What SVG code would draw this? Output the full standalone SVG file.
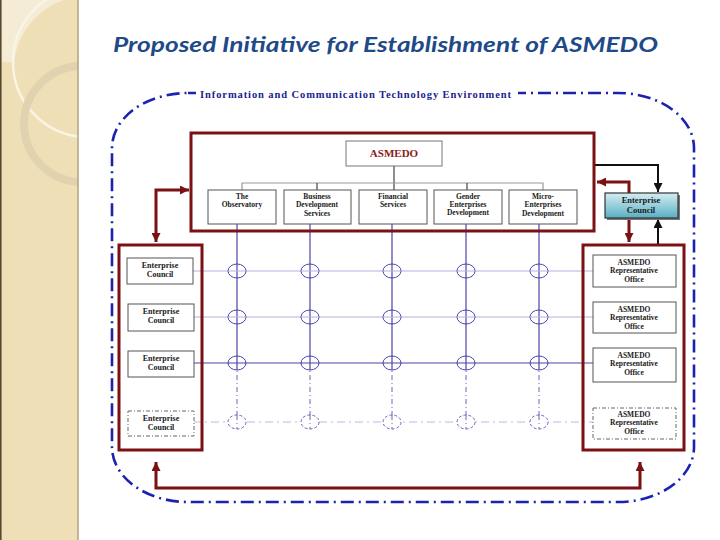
<svg xmlns="http://www.w3.org/2000/svg" width="720" height="540" viewBox="0 0 720 540">
<style>
.red{fill:none;stroke:#7b1113;stroke-width:3}
.redarr{fill:none;stroke:#7b1113;stroke-width:3;marker-start:url(#ra);marker-end:url(#ra)}
.blk{fill:none;stroke:#111;stroke-width:2;marker-end:url(#ba)}
.box{fill:#fff;stroke:#555;stroke-width:1}
.dbox{fill:#fff;stroke:#666;stroke-width:1;stroke-dasharray:4 2 1 2}
.t{font-family:"Liberation Serif","Times New Roman",serif;font-weight:bold;fill:#1a1a1a;text-anchor:middle}
.vl{stroke:#4a45a8;stroke-width:1.2;fill:none}
.vd{stroke:#6a66b8;stroke-width:1;fill:none;stroke-dasharray:5 3 1 3}
.hl{stroke:#b4b2e4;stroke-width:1.2;fill:none}
.hd{stroke:#b9b8e6;stroke-width:1;fill:none;stroke-dasharray:8 4 2 4}
.ring{fill:#fff;stroke:#4a45a8;stroke-width:1}
.ringd{fill:#fff;stroke:#6a66b8;stroke-width:1;stroke-dasharray:3 2}
.conn{stroke:#999;stroke-width:1.2;fill:none}
.connd{stroke:#444;stroke-width:1.2;fill:none}
</style>
<defs>
<marker id="ra" viewBox="0 0 10 10" refX="10" refY="5" markerWidth="9" markerHeight="9" markerUnits="userSpaceOnUse" orient="auto-start-reverse"><path d="M0,0 L10,5 L0,10 z" fill="#7b1113"/></marker>
<marker id="ba" viewBox="0 0 10 10" refX="10" refY="5" markerWidth="9" markerHeight="9" markerUnits="userSpaceOnUse" orient="auto"><path d="M0,0 L10,5 L0,10 z" fill="#111"/></marker>
<linearGradient id="teal" x1="0" y1="0" x2="0" y2="1"><stop offset="0" stop-color="#d3eef3"/><stop offset="1" stop-color="#5aaec2"/></linearGradient>
<clipPath id="side"><rect x="0" y="0" width="78" height="540"/></clipPath>
</defs>

<g id="sidebar">
<rect x="0" y="0" width="78" height="540" fill="#efdfb7"/>
<g clip-path="url(#side)">
<path d="M0,0 H64 A75,75 0 0 0 14,62 H0 z" fill="#f5ecd6"/>
<circle cx="88" cy="62" r="75" fill="none" stroke="#faf4e4" stroke-width="2.5"/>
<circle cx="82" cy="124" r="58" fill="none" stroke="#e2d3b0" stroke-width="8"/>
</g>
<line x1="0.8" y1="0" x2="0.8" y2="540" stroke="#5a4a2e" stroke-width="1.6"/>
<line x1="78" y1="0" x2="78" y2="540" stroke="#b5a27a" stroke-width="1.5"/>
</g>

<text id="title" x="113" y="52" textLength="545" lengthAdjust="spacingAndGlyphs" font-family="Lato,'Open Sans',sans-serif" font-style="italic" font-weight="bold" font-size="21" fill="#1f4a88">Proposed Initiative for Establishment of ASMEDO</text>

<g id="ict-frame">
<rect x="112" y="93" width="582" height="409" rx="76" ry="55" fill="none" stroke="#1c22b0" stroke-width="2.6" stroke-dasharray="13 5 2 5"/>
<rect x="196" y="86" width="322" height="15" fill="#fff"/>
<text x="200" y="97.5" textLength="311" lengthAdjust="spacing" font-family="'Liberation Serif',serif" font-weight="bold" font-size="10.5" fill="#1c2290">Information and Communication Technology  Environment</text>
</g>

<g id="connectors">
<path class="connd" d="M394,166 V190"/>
<path class="conn" d="M242,190 V183 H543 V190"/>
<path class="connd" d="M317,183 V190 M467,183 V190"/>
<path class="vl" d="M237,224 V363 M310,224 V363 M392,224 V363 M466,224 V363 M539,224 V363"/>
<path class="vd" d="M237,363 V430 M310,363 V430 M392,363 V430 M466,363 V430 M539,363 V430"/>
<path class="hl" d="M193,271 H593 M194,317 H593"/>
<path class="vl" d="M194,363 H593"/>
<path class="hd" d="M193,422 H593"/>
<path class="redarr" d="M156,242 V190 H189"/>
<path class="redarr" d="M629,242 V182 H597"/>
<path class="redarr" d="M156,462 V488 H640 V462"/>
<path class="blk" d="M594,165 H658 V192"/>
<path class="blk" d="M658,245 V219"/>
</g>

<g id="grid-nodes">
<ellipse class="ring" cx="237" cy="271" rx="9" ry="7"/><ellipse class="ring" cx="310" cy="271" rx="9" ry="7"/><ellipse class="ring" cx="392" cy="271" rx="9" ry="7"/><ellipse class="ring" cx="466" cy="271" rx="9" ry="7"/><ellipse class="ring" cx="539" cy="271" rx="9" ry="7"/>
<ellipse class="ring" cx="237" cy="317" rx="9" ry="7"/><ellipse class="ring" cx="310" cy="317" rx="9" ry="7"/><ellipse class="ring" cx="392" cy="317" rx="9" ry="7"/><ellipse class="ring" cx="466" cy="317" rx="9" ry="7"/><ellipse class="ring" cx="539" cy="317" rx="9" ry="7"/>
<ellipse class="ring" cx="237" cy="363" rx="9" ry="7"/><ellipse class="ring" cx="310" cy="363" rx="9" ry="7"/><ellipse class="ring" cx="392" cy="363" rx="9" ry="7"/><ellipse class="ring" cx="466" cy="363" rx="9" ry="7"/><ellipse class="ring" cx="539" cy="363" rx="9" ry="7"/>
<ellipse class="ringd" cx="237" cy="422" rx="9" ry="7"/><ellipse class="ringd" cx="310" cy="422" rx="9" ry="7"/><ellipse class="ringd" cx="392" cy="422" rx="9" ry="7"/><ellipse class="ringd" cx="466" cy="422" rx="9" ry="7"/><ellipse class="ringd" cx="539" cy="422" rx="9" ry="7"/>
<path class="vl" d="M237,264 V278 M310,264 V278 M392,264 V278 M466,264 V278 M539,264 V278 M237,310 V324 M310,310 V324 M392,310 V324 M466,310 V324 M539,310 V324 M237,356 V370 M310,356 V370 M392,356 V370 M466,356 V370 M539,356 V370"/>
<path class="hl" d="M228,271 H246 M301,271 H319 M383,271 H401 M457,271 H475 M530,271 H548 M228,317 H246 M301,317 H319 M383,317 H401 M457,317 H475 M530,317 H548"/>
<path class="vl" d="M228,363 H246 M301,363 H319 M383,363 H401 M457,363 H475 M530,363 H548"/>
<path class="vd" d="M237,415 V429 M310,415 V429 M392,415 V429 M466,415 V429 M539,415 V429"/>
</g>

<g id="asmedo">
<rect class="red" x="191" y="133" width="403" height="98" fill="none"/>
<rect x="346" y="141" width="96" height="25" fill="#fff" stroke="#777" stroke-width="1"/>
<text class="t" x="394" y="157" font-size="11" style="fill:#8b1a1a">ASMEDO</text>
</g>

<g id="dept-observatory">
<rect class="box" x="208" y="190" width="68" height="34"/>
<text class="t" x="242" y="199" font-size="7.5">The</text>
<text class="t" x="242" y="207" font-size="7.5">Observatory</text>
</g>
<g id="dept-bds">
<rect class="box" x="284" y="190" width="67" height="34"/>
<text class="t" x="317" y="199" font-size="7.5">Business</text>
<text class="t" x="317" y="207" font-size="7.5">Development</text>
<text class="t" x="317" y="216" font-size="7.5">Services</text>
</g>
<g id="dept-financial">
<rect class="box" x="359" y="190" width="68" height="34" stroke="#888"/>
<text class="t" x="393" y="199" font-size="7.5">Financial</text>
<text class="t" x="393" y="207" font-size="7.5">Services</text>
</g>
<g id="dept-gender">
<rect class="box" x="434" y="190" width="68" height="34"/>
<text class="t" x="468" y="199" font-size="7.5">Gender</text>
<text class="t" x="468" y="207" font-size="7.5">Enterprises</text>
<text class="t" x="468" y="215" font-size="7.5">Development</text>
</g>
<g id="dept-micro">
<rect class="box" x="509" y="190" width="68" height="34"/>
<text class="t" x="543" y="199" font-size="7.5">Micro-</text>
<text class="t" x="543" y="207" font-size="7.5">Enterprises</text>
<text class="t" x="543" y="216" font-size="7.5">Development</text>
</g>

<g id="enterprise-council-top">
<rect x="607" y="195" width="73" height="25" fill="#777"/>
<rect x="605" y="193" width="73" height="25" fill="url(#teal)" stroke="#333" stroke-width="1.2"/>
<text class="t" x="641" y="203" font-size="8.5">Enterprise</text>
<text class="t" x="641" y="213" font-size="8.5">Council</text>
</g>

<g id="enterprise-councils">
<rect class="red" x="119" y="245" width="83" height="205" fill="none"/>
<g id="ec1"><rect class="box" x="127" y="258" width="66" height="26"/>
<text class="t" x="160" y="268" font-size="8">Enterprise</text><text class="t" x="160" y="277" font-size="8">Council</text></g>
<g id="ec2"><rect class="box" x="128" y="304" width="66" height="27"/>
<text class="t" x="161" y="314" font-size="8">Enterprise</text><text class="t" x="161" y="323" font-size="8">Council</text></g>
<g id="ec3"><rect class="box" x="128" y="351" width="66" height="26"/>
<text class="t" x="161" y="361" font-size="8">Enterprise</text><text class="t" x="161" y="370" font-size="8">Council</text></g>
<g id="ec4"><rect class="dbox" x="128" y="411" width="66" height="25"/>
<text class="t" x="161" y="421" font-size="8">Enterprise</text><text class="t" x="161" y="430" font-size="8">Council</text></g>
</g>

<g id="representative-offices">
<rect class="red" x="583" y="245" width="101" height="205" fill="none"/>
<g id="ro1"><rect class="box" x="593" y="255" width="83" height="32"/>
<text class="t" x="634" y="265" font-size="7.5">ASMEDO</text><text class="t" x="634" y="273" font-size="7.5">Representative</text><text class="t" x="634" y="282" font-size="7.5">Office</text></g>
<g id="ro2"><rect class="box" x="593" y="302" width="83" height="31"/>
<text class="t" x="634" y="312" font-size="7.5">ASMEDO</text><text class="t" x="634" y="320" font-size="7.5">Representative</text><text class="t" x="634" y="329" font-size="7.5">Office</text></g>
<g id="ro3"><rect class="box" x="593" y="348" width="83" height="34"/>
<text class="t" x="634" y="358" font-size="7.5">ASMEDO</text><text class="t" x="634" y="366" font-size="7.5">Representative</text><text class="t" x="634" y="375" font-size="7.5">Office</text></g>
<g id="ro4"><rect class="dbox" x="593" y="408" width="83" height="31"/>
<text class="t" x="634" y="417" font-size="7.5">ASMEDO</text><text class="t" x="634" y="425" font-size="7.5">Representative</text><text class="t" x="634" y="434" font-size="7.5">Office</text></g>
</g>
</svg>
